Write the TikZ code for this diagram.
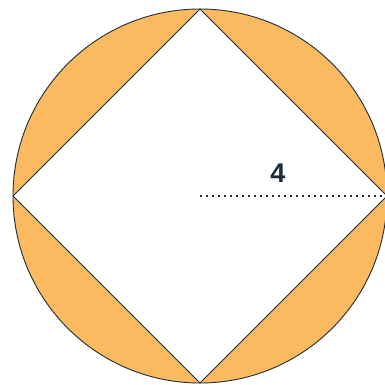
\documentclass[tikz,border=0pt]{standalone}
\usepackage{fontspec}
\setmainfont{Liberation Sans}
\definecolor{seg}{HTML}{FBB960}
\definecolor{ink}{HTML}{1B2D3A}
\begin{document}
\begin{tikzpicture}[x=1pt,y=-1pt,
  outline/.style={draw=ink,line width=0.9pt},
  radius line/.style={draw=ink,line width=2pt,dash pattern=on 2pt off 4pt},
  lbl/.style={font=\fontsize{27}{30}\selectfont\bfseries,text=ink}]
\useasboundingbox (0,0) rectangle (385,385);
\coordinate (c) at (200,196);
\coordinate (t) at (200,9);
\coordinate (r) at (387,196);
\coordinate (b) at (200,383);
\coordinate (l) at (13,196);
\fill[seg] (c) circle[radius=187];
\fill[white] (t) -- (r) -- (b) -- (l) -- cycle;
\draw[outline] (c) circle[radius=187];
\draw[outline] (t) -- (r) -- (b) -- (l) -- cycle;
\draw[radius line] (c) -- (r);
\node[lbl] (four) at (278,173) {4};
\end{tikzpicture}
\end{document}
